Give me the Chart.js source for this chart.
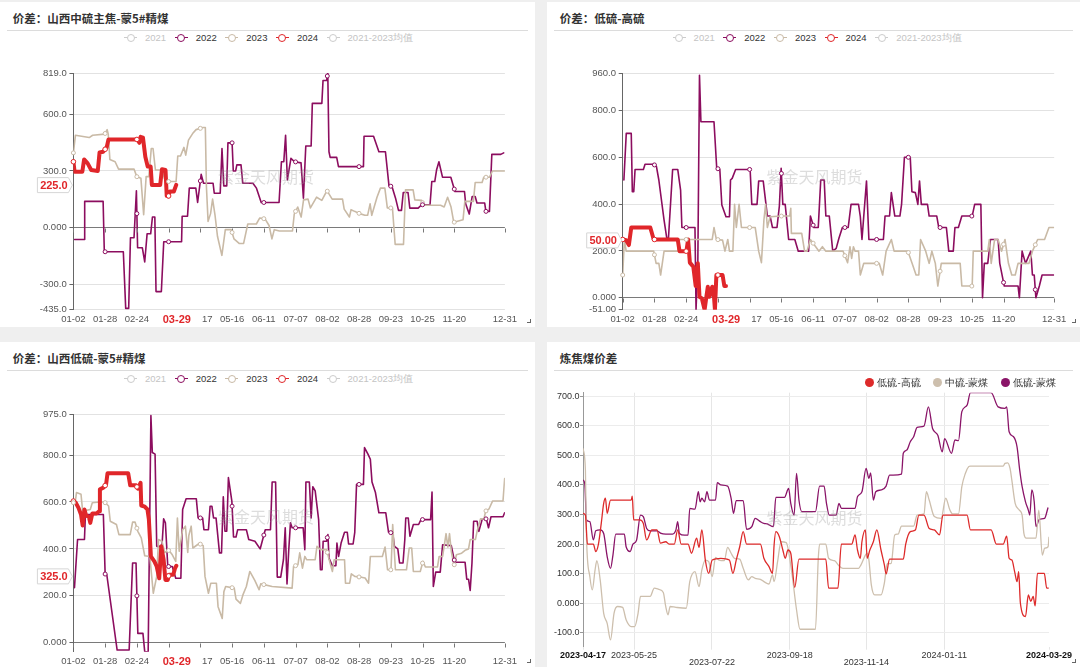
<!DOCTYPE html>
<html>
<head>
<meta charset="utf-8">
<script src="https://cdn.jsdelivr.net/npm/chart.js@4.4.1/dist/chart.umd.min.js"></script>
<style>
body{margin:0;background:#efefef;width:1080px;height:667px;overflow:hidden;position:relative;font-family:"Liberation Sans",Arial,sans-serif;}
.panel{position:absolute;background:#fff;}
.title{position:absolute;font-family:"Noto Sans CJK SC",sans-serif;font-weight:700;font-size:11.5px;line-height:14px;color:#333;white-space:nowrap;}
.sep{position:absolute;height:1px;background:#dcdcdc;}
.legend{position:absolute;font-size:9.5px;line-height:10px;white-space:nowrap;display:flex;align-items:center;z-index:3;}
.legend .item{display:flex;align-items:center;margin-right:8.5px;}
.icon{position:relative;display:inline-block;width:13px;height:8px;margin-right:8px;}
.icon:before{content:'';position:absolute;left:0;right:0;top:3.5px;height:1px;background:currentColor;}
.icon:after{content:'';position:absolute;left:2.5px;top:0;width:6px;height:6px;border:1px solid currentColor;border-radius:50%;background:#fff;}
.dot{display:inline-block;width:9px;height:9px;border-radius:50%;margin-right:3px;}
.corner{position:absolute;width:3px;height:3px;border-right:1px solid #666;border-bottom:1px solid #666;}
canvas{position:absolute;z-index:2;}
</style>
</head>
<body>
<script>
// ---- data: year panels (x = day of year from 01-02, y = spread) ----
const yearNames = ['2021', '2022', '2023', '2024', '2021-2023均值'];
const yearColors = ['#cccccc', '#8c0d5f', '#c9baa6', '#e0262a', '#cccccc'];
const yearShown = [false, true, true, true, false];
const xTickDays = [1, 27.7, 54.4, 81.1, 107.8, 134.5, 161.2, 187.9, 214.6, 241.3, 268, 294.7, 321.4, 364];
const xTickLabels = ['01-02', '01-28', '02-24', '', '04-17', '05-16', '06-11', '07-07', '08-02', '08-28', '09-23', '10-25', '11-20', '12-31'];
const markerDays = [1, 27.7, 54.4, 81.1, 107.8, 134.5, 161.2, 187.9, 214.6, 241.3, 268, 294.7, 321.4, 348.1];
const todayDay = 88;
const todayLabel = '03-29';

// 山西中硫主焦-蒙5#精煤
const mid22 = [[2,-63],[10,-63],[10.5,139],[26,139],[27,-128],[43,-128],[45,-428],[47.5,-428],[49,-54],[52,-54],[54,195],[55,-107],[59,-107],[61,-182],[63,-33],[66,-33],[67.5,56],[69.5,56],[70.5,-339],[75,-339],[77,-75],[92,-75],[92.5,60],[97,60],[98.5,209],[104,209],[105.5,133],[108.5,282],[110.5,235],[118.5,235],[119.5,182],[124.5,182],[126,419],[127.5,221],[130,221],[131,449],[134.5,449],[135.5,300],[137.5,300],[138.5,332],[142,332],[143.5,235],[152,235],[155,209],[159,133],[174,133],[176,349],[178,349],[179.5,489],[181,253],[184,367],[187,349],[192.5,343],[194.5,156],[196.5,432],[201,432],[202,658],[210,658],[211,779],[214,779],[215,819],[216,402],[217,372],[222.5,372],[224,323],[245,323],[245.5,484],[253.5,484],[258,402],[263.5,402],[266.5,221],[269,218],[272,156],[274.5,91],[277,91],[278.5,186],[282.5,186],[284,103],[291,103],[294,121],[301,121],[302.5,244],[305,244],[306.5,305],[308.5,349],[311.5,267],[318.5,267],[322,191],[330,191],[331,126],[334,72],[336.5,165],[339,165],[340.5,130],[347,130],[348,86],[351,86],[353,388],[360.5,388],[363,396]];
const mid23 = [[1,396],[2.7,489],[14.3,477],[17.2,489],[27.4,495],[29.4,519],[30.3,495],[31.7,361],[36.1,349],[39,310],[52,310],[54.3,270],[57.8,261],[60.1,68],[62.2,270],[64.5,270],[66.5,419],[68,419],[70,305],[75.2,305],[77.5,261],[80.4,244],[87.4,244],[88.8,379],[91.1,379],[94,425],[95.5,384],[97.8,463],[101.3,498],[104.2,519],[110,530],[112,530],[112.9,218],[114.3,33],[116.4,74],[118.1,151],[120.1,68],[122.2,-46],[125.9,-147],[128.8,-11],[133.8,-11],[136.1,-60],[140.4,-84],[144.2,-84],[147.7,19],[154.9,19],[157.8,51],[162.2,46],[165.6,11],[168,-60],[170,-11],[174.3,-18],[185.3,-18],[186.8,72],[189.7,109],[192.6,56],[194.6,147],[198.4,151],[200.4,104],[205.6,161],[210,144],[214.3,196],[218.7,151],[227.4,151],[228.8,98],[233.2,56],[234.6,95],[237.5,86],[241.9,74],[246.2,65],[248.5,65],[250.6,126],[252,65],[256.4,161],[259.3,209],[263,209],[265.1,104],[269.4,104],[271.7,-89],[278.7,-89],[280.4,200],[286.8,200],[288.2,147],[294,144],[295.5,118],[309.9,118],[312.9,109],[315.8,161],[318.7,109],[321,28],[328.8,42],[330.3,139],[337.5,139],[339,239],[344.8,239],[346.2,267],[351.1,267],[353.5,300],[363.5,300]];
const mid24 = [[1,349],[2,296],[8.5,296],[10,361],[13,340],[16,305],[21.5,300],[23,398],[26,402],[29,425],[30.5,467],[55,467],[56.5,449],[57.5,481],[59.5,477],[61.5,375],[63.5,323],[66,323],[67,226],[74,226],[75.5,309],[78.5,305],[79.5,168],[81,165],[82,191],[85.5,191],[87.5,226]];

// 低硫-高硫
const hs22 = [[2,503],[4,702],[8.2,702],[9.1,453],[10.3,453],[11.4,548],[18.4,548],[19.8,570],[27.1,570],[29.4,560],[31.4,503],[35.8,332],[38.1,254],[39.5,254],[43,548],[47.3,548],[49.7,460],[50.8,300],[61.8,300],[62.7,-51],[64.2,147],[65.6,950],[66.8,752],[77.8,752],[80.1,553],[82.7,548],[84.4,396],[87.9,346],[90.8,346],[91.7,503],[93.1,510],[96,548],[108.2,548],[109.6,399],[114,399],[115.4,499],[119.2,499],[122.7,349],[125,349],[127,300],[130.8,300],[132.8,392],[134.3,553],[135.7,399],[137.7,399],[140.6,249],[145.8,249],[148.7,199],[157.4,199],[158.9,349],[161.8,300],[165.5,300],[167.6,503],[170.5,503],[171.9,349],[174.8,349],[177.7,199],[180.6,211],[182.9,254],[185.8,300],[190.7,300],[193.1,399],[199.4,399],[200.9,346],[202.3,249],[203.8,349],[206.1,499],[208.1,249],[220.3,249],[221.7,349],[225.5,349],[227,449],[229.9,349],[234.2,349],[235.6,399],[238,600],[242.9,600],[244.3,453],[247.2,449],[249.3,399],[250.7,499],[252.2,399],[257.4,399],[258.8,349],[265.2,349],[266.9,300],[273.3,300],[275.3,199],[279.1,199],[280.5,300],[283.4,300],[286.3,349],[295,349],[297.1,399],[302.3,399],[303.7,0],[305.2,147],[308.1,147],[310.4,249],[316.8,249],[318.2,147],[322,50],[333.6,50],[334.7,0],[337,199],[339.9,147],[344.3,199],[345.7,97],[347.2,97],[348.6,0],[351.5,50],[353.8,97],[363.5,97]];
const hs23 = [[1,97],[2.4,249],[3.9,199],[27.1,199],[29.1,147],[31.4,147],[32.9,97],[35.8,199],[47.3,199],[48.8,249],[76.3,249],[77.8,300],[79.8,249],[85,246],[87,199],[89.4,249],[90.8,199],[93.7,199],[95.1,399],[96.6,300],[98.9,399],[100.9,300],[112.5,300],[115.4,199],[117.7,150],[119.8,332],[121.2,399],[122.7,300],[125,346],[134.3,349],[141.5,349],[142.4,382],[142.9,275],[151.6,275],[154,199],[156,199],[158.9,249],[166.1,199],[169,218],[171.9,199],[186.4,199],[190.2,150],[192.2,218],[193.6,168],[195.1,218],[196.5,199],[199.4,199],[200.9,97],[203.8,147],[216.8,147],[219.7,97],[222.6,199],[227,249],[229.3,199],[240.9,199],[244.3,150],[247.8,97],[250.1,97],[251.6,249],[255.9,199],[258.8,147],[261.1,199],[264,147],[266.1,50],[269,147],[284.9,147],[286.3,50],[295,50],[295.9,199],[308.1,199],[309.5,249],[311,147],[313.9,249],[316.8,249],[319.7,199],[322.6,249],[325.5,147],[328.3,97],[331.2,97],[333.6,147],[342.8,147],[345.7,199],[350.1,249],[355.9,249],[359.6,300],[363.5,300]];
const hs24 = [[1,249],[3.9,246],[6.2,225],[8.2,300],[24.2,300],[27.1,249],[47.3,249],[48.8,199],[54.6,199],[56,249],[57.5,150],[60.4,132],[62.4,50],[64.2,147],[65.6,4],[67.6,-3],[69.9,-51],[71.4,4],[72.6,47],[74,4],[76.3,47],[77.8,4],[78.6,-51],[79.8,97],[85,97],[86.5,50],[87.9,50]];

// 山西低硫-蒙5#精煤
const low22 = [[1.9,235],[4.5,440],[10.3,440],[11.1,547],[26.2,547],[27.7,293],[29.1,290],[37.8,-31],[47.9,-31],[50.8,340],[53.7,340],[55.2,40],[59.5,40],[61,-38],[63.9,-38],[66.2,968],[67.4,811],[69.7,804],[71.1,411],[75.5,411],[76.9,528],[78.4,511],[80.4,325],[84.2,325],[87.1,275],[91.4,275],[92.9,568],[95.8,614],[104.4,614],[105.9,532],[109.7,532],[110.8,482],[114.6,482],[116,582],[117.5,582],[118.9,532],[121,532],[123.9,383],[125.6,383],[127.1,622],[128.5,475],[130,475],[131.4,704],[134.3,604],[135.7,451],[137.8,451],[139.2,482],[146.5,482],[148.5,440],[153.7,433],[158.1,400],[162.4,482],[166.8,482],[168.2,685],[171.1,685],[172.5,280],[175.4,280],[177.7,354],[179.2,490],[180.7,251],[182.1,390],[183.6,511],[185,490],[194.3,490],[195.7,397],[196.6,685],[199.5,685],[201,532],[202.4,665],[204.4,647],[207.3,525],[208.8,311],[210.2,311],[211.1,433],[214,433],[215.1,461],[216,361],[218.9,328],[221.8,328],[222.7,425],[224.1,368],[226.2,425],[229.1,471],[231.4,471],[232.5,421],[236.3,421],[237.7,471],[239.2,675],[245,675],[245.9,832],[248.8,804],[250.8,782],[252.2,685],[255.1,640],[258,554],[263.8,554],[266.1,471],[269.6,468],[271.1,411],[273.9,400],[275.4,340],[278.3,340],[279.8,440],[280.6,532],[282.7,532],[284.1,454],[287,504],[291.4,504],[293.4,525],[301.5,525],[302.7,642],[303.8,240],[305.8,301],[309.6,301],[311.6,418],[318.9,414],[321.8,343],[330.5,343],[331.9,271],[333.4,271],[334.8,223],[336.3,340],[337.7,518],[340.6,518],[342.1,475],[345,528],[348.4,528],[350.2,490],[352.3,537],[362.4,537],[363.8,554]];
const low23 = [[1,597],[2.4,594],[3.6,640],[7.4,633],[8.8,561],[15.2,568],[16.9,597],[23.3,600],[27.1,600],[30.6,583],[32,518],[37.2,504],[39.3,461],[48.8,461],[50.8,514],[52.9,514],[55.2,475],[58.1,447],[61,371],[65.3,368],[68.2,211],[71.1,283],[72.6,440],[75.5,433],[77.8,385],[81.3,394],[84.2,375],[87.1,347],[88.5,532],[90,390],[92.9,482],[95.2,497],[97.2,385],[98.1,457],[100.1,497],[101.5,404],[106.8,423],[110.2,414],[111.7,283],[114.6,211],[116.6,254],[121.3,254],[122.7,154],[126.2,104],[127.6,218],[129.1,240],[136.3,233],[137.8,186],[141.5,168],[143.6,204],[146.5,240],[149.4,304],[153.7,265],[157.2,226],[158.6,251],[168.2,240],[185,233],[186.2,325],[189.9,333],[191.4,383],[193.7,318],[195.7,368],[197.2,354],[204.4,354],[205.9,411],[208.8,397],[214,397],[216,357],[218.9,304],[220.4,354],[229.1,354],[229.9,254],[233.4,254],[234.8,294],[237.7,283],[242.1,280],[246.4,276],[249.3,254],[250.8,368],[260.9,368],[263.2,408],[265.3,311],[268.2,311],[269.6,504],[271.9,311],[281.2,311],[283.5,404],[285.6,404],[287,304],[292.8,304],[295.1,347],[297.1,323],[307.3,323],[308.7,368],[311.6,368],[314.5,465],[316,408],[317.4,465],[318.9,390],[321.2,328],[323.2,375],[327.6,382],[330.5,394],[333.4,400],[334.8,440],[339.2,440],[340.6,475],[343.5,528],[346.4,528],[347.8,561],[350.7,571],[353.6,604],[362.4,604],[363.8,700]];
const low24 = [[1,604],[3,597],[5.3,575],[7.4,547],[8.8,500],[10.3,568],[11.7,542],[14,537],[15.2,511],[16.9,551],[20.4,551],[22.7,561],[23.3,654],[26.2,661],[28.5,675],[29.7,722],[47.1,722],[48.8,671],[53.7,671],[55.2,657],[57.5,682],[58.1,585],[61,580],[63.3,568],[64.5,525],[66.2,368],[69.1,347],[71.1,325],[73.2,275],[74.9,411],[76.9,354],[78.4,268],[80.4,268],[81.3,290],[85,290],[86.5,318],[87.6,328]];

// ---- data: 炼焦煤价差 (x = days since 2023-04-17) ----
const spreadNames = ['低硫-高硫', '中硫-蒙煤', '低硫-蒙煤'];
const spreadColors = ['#dd2a2a', '#cdbfad', '#8a1468'];
const spreadStart = Date.UTC(2023, 3, 17);
const spreadTickDays = [0, 38, 96, 154, 211, 269, 347];
const lowHigh = [[0,304],[1.8,298],[3.3,200],[7.7,200],[9.5,175],[11.5,200],[13.6,270],[15.4,338],[16.7,355],[18,304],[20.5,349],[35.9,349],[36.7,362],[37.7,282],[42.3,282],[44.9,270],[47.4,214],[51.3,248],[55.1,248],[57.7,203],[61.6,208],[64.1,200],[68,200],[70.5,248],[73.1,200],[78.2,200],[80.8,169],[84.6,220],[86.4,189],[88.5,248],[91.1,146],[93.6,101],[96.2,146],[102.6,152],[109,146],[111.6,101],[114.1,146],[116.7,191],[119.3,242],[121.8,200],[132.1,200],[134.7,152],[138.5,124],[141.1,101],[142.3,197],[143.6,242],[146.2,225],[148.8,180],[150.6,152],[152.6,180],[154.7,169],[157.7,54],[160.8,149],[180.8,149],[182.9,51],[189.8,51],[192.4,200],[200.1,200],[202.6,231],[204.4,180],[206.5,152],[207.7,208],[210.3,248],[211.6,152],[213.6,180],[216.2,208],[218.8,248],[221.9,180],[224.4,130],[225.7,99],[228.3,149],[238.5,149],[240.3,200],[243.7,242],[247.5,248],[250.1,298],[253.9,298],[257.8,253],[261.6,248],[265.5,231],[268,298],[286,298],[288.5,248],[303.9,248],[307.8,200],[312.9,200],[315.5,227],[317.3,152],[319.4,146],[321.4,107],[323.2,73],[324.4,107],[325.7,0],[329.5,-45],[331.6,28],[333.4,6],[335.2,23],[336.7,-9],[338.4,101],[343.5,101],[345.3,51],[346.8,51]];
const midMeng = [[0,524],[1.8,450],[2.6,225],[5.1,90],[6.9,45],[9,113],[10.3,144],[12.8,79],[15.4,-34],[18,-68],[20.5,-124],[23.1,-34],[25.6,-11],[29.5,-14],[32.1,-56],[35.9,-79],[38.5,-79],[41,-34],[42.8,23],[50,23],[53.1,51],[56.4,47],[59.8,36],[61.6,-11],[63.3,-39],[64.9,-11],[69.2,-14],[76.9,-17],[79.5,73],[83.4,107],[86.4,56],[88.5,113],[91.1,146],[93.6,141],[96.2,90],[98.7,155],[101.3,146],[105.2,144],[107.7,189],[110.3,169],[112.8,152],[116.7,149],[119.3,118],[123.1,79],[125.7,90],[128.2,84],[132.1,81],[134.7,73],[138.5,65],[141.1,96],[142.3,73],[144.9,141],[147.5,208],[151.3,205],[155.2,113],[159,-22],[161.6,-88],[173.1,-88],[175.2,152],[176.2,200],[180.8,200],[182.9,152],[187.2,144],[191.1,124],[193.6,118],[205.2,118],[207,130],[211.6,169],[212.9,146],[214.7,62],[217.2,28],[221.9,28],[224.4,68],[226.5,133],[229.5,135],[232.1,231],[234.7,234],[237.2,261],[246.2,261],[248.8,298],[253.9,302],[255.7,377],[257.8,349],[261.6,293],[266.7,287],[270.1,355],[273.2,315],[275.2,302],[279.6,302],[282.1,394],[284.7,439],[287.2,462],[288.5,464],[312.9,464],[314.2,473],[316.2,475],[318,456],[319.3,417],[321.8,338],[324.9,315],[327,298],[328.3,236],[330.1,220],[337.3,220],[339.4,315],[342,163],[343.8,186],[346.3,191],[347,225]];
const lowMeng = [[0,417],[1.3,405],[2.6,282],[5.1,276],[7.7,214],[9.5,245],[12.8,248],[15.4,236],[18,158],[20.5,118],[22.3,163],[24.4,234],[30.8,234],[32.1,191],[35.1,175],[37.2,200],[39.8,212],[42.8,298],[44.9,293],[47.4,253],[50,245],[55.1,245],[58.2,236],[61.6,234],[66.7,234],[69.2,248],[70.5,276],[71.8,236],[75.7,230],[78.2,230],[79.5,321],[83.4,318],[85.9,377],[87.2,343],[88.5,355],[90.5,343],[92.3,377],[94.1,349],[98.7,349],[100,408],[102.6,400],[107.7,396],[110.3,355],[112.1,304],[114.1,347],[119.3,347],[121.8,250],[125.7,259],[128.2,287],[132.1,276],[134.7,270],[137.2,268],[141.8,259],[143.6,358],[150,358],[153.1,388],[154.7,338],[157.2,298],[159,439],[160.8,349],[162.9,310],[173.1,310],[176.2,396],[179.5,396],[181.3,338],[183.4,298],[188.5,298],[190.6,338],[192.4,321],[202.6,321],[204.4,360],[207.7,377],[210.8,456],[212.9,422],[214.2,441],[216.2,349],[218,377],[221.9,383],[225.7,396],[228.3,433],[237.2,437],[238.5,507],[241.1,518],[243.7,546],[246.2,563],[248.8,595],[253.9,599],[257.2,664],[260.3,591],[264.2,568],[267.5,512],[269.3,557],[274.4,507],[277,552],[279.6,550],[282.1,648],[286,670],[288.5,712],[303.9,712],[309.1,664],[314.2,659],[315.5,664],[317.3,580],[320.6,563],[323.2,529],[325.2,450],[327,394],[329.5,343],[331.6,315],[332.7,298],[334.2,383],[336,343],[337.3,259],[339.8,284],[343.7,287],[346.3,324]];

const watermark = '紫金天风期货';

// ---- layout ----
const yearPanels = [
  { title: '价差：山西中硫主焦-蒙5#精煤', box: [0, 2, 535, 325], canvas: [0, 45, 535, 290], plot: [73.4, 73, 504.9, 309.7],
    yMin: -435, yMax: 819, yTicks: [-435, -300, 0, 300, 600, 819], series: [mid22, mid23, mid24],
    last: '225.0', lastAt: 225, legend: [124, 32.5], mark: [266, 176.7], labelPad: 4 },
  { title: '价差：低硫-高硫', box: [547, 2, 533, 325], canvas: [547, 45, 533, 290], plot: [622.7, 73, 1054.2, 309.7],
    yMin: -51, yMax: 960, yTicks: [-51, 0, 200, 400, 600, 800, 960], series: [hs22, hs23, hs24],
    last: '50.00', lastAt: 245, legend: [672.6, 32.5], mark: [814.6, 177], labelPad: 4 },
  { title: '价差：山西低硫-蒙5#精煤', box: [0, 342, 535, 325], canvas: [0, 385, 535, 282], plot: [73.4, 414, 504.9, 651.7],
    yMin: -38, yMax: 975, yTicks: [0, 200, 400, 600, 800, 975], series: [low22, low23, low24],
    last: '325.0', lastAt: 283, legend: [124, 373.5], mark: [266, 517], labelPad: 3.7 }
];

function addDiv(cls, left, top, w, h, text) {
  const d = document.createElement('div');
  d.className = cls;
  d.style.left = left + 'px';
  d.style.top = top + 'px';
  if (w != null) d.style.width = w + 'px';
  if (h != null) d.style.height = h + 'px';
  if (text) d.textContent = text;
  document.body.appendChild(d);
  return d;
}

function addPanelFrame(box, title) {
  addDiv('panel', box[0], box[1], box[2], box[3]);
  addDiv('title', box[0] + 12.7, box[1] + 8.5, null, null, title);
  addDiv('sep', box[0] + 6.5, box[1] + 28, box[2] - 14, 1);
  addDiv('corner', box[0] + box[2] - 8, box[1] + box[3] - 8, null, null);
}

function yearLegend(left, top) {
  const box = addDiv('legend', left, top, null, null);
  yearNames.forEach((n, i) => {
    const c = yearShown[i] ? yearColors[i] : '#cccccc';
    const it = document.createElement('span');
    it.className = 'item';
    it.innerHTML = `<span class="icon" style="color:${c}"></span><span style="color:${yearShown[i] ? '#333' : '#c4c4c4'}">${n}</span>`;
    box.appendChild(it);
  });
}

function toPts(arr) {
  return arr.map(p => ({ x: p[0], y: p[1] }));
}

const decor = {
  id: 'decor',
  afterDatasetsDraw(chart, args, o) {
    const ctx = chart.ctx, xs = chart.scales.x, ys = chart.scales.y;
    ctx.save();
    // watermark
    ctx.font = '16px "Noto Sans CJK SC"';
    ctx.fillStyle = 'rgba(150,150,150,0.32)';
    ctx.textAlign = 'center';
    ctx.textBaseline = 'middle';
    ctx.fillText(watermark, o.markX, o.markY);
    // ticks on the zero line
    if (o.zeroTicks) {
      const y0 = Math.round(ys.getPixelForValue(0)) + 0.5;
      ctx.strokeStyle = '#777';
      ctx.lineWidth = 1;
      xs.ticks.forEach(t => {
        const px = Math.round(xs.getPixelForValue(t.value)) + 0.5;
        ctx.beginPath(); ctx.moveTo(px, y0); ctx.lineTo(px, y0 + 4); ctx.stroke();
      });
    }
    // small symbols at the label interval
    if (o.markers) {
      chart.data.datasets.forEach((ds, i) => {
        const pts = chart.getDatasetMeta(i).data;
        o.markers.forEach(m => {
          const px = xs.getPixelForValue(m);
          for (let j = 0; j < pts.length - 1; j++) {
            const a = pts[j], b = pts[j + 1];
            if (a.x <= px && b.x >= px) {
              const y = b.x === a.x ? a.y : a.y + (b.y - a.y) * (px - a.x) / (b.x - a.x);
              ctx.beginPath();
              ctx.arc(px, y, ds.markerR, 0, Math.PI * 2);
              ctx.fillStyle = '#fff';
              ctx.fill();
              ctx.strokeStyle = ds.borderColor;
              ctx.lineWidth = 1;
              ctx.stroke();
              break;
            }
          }
        });
      });
    }
    ctx.restore();
  },
  afterDraw(chart, args, o) {
    if (!o.last) return;
    const ctx = chart.ctx, xs = chart.scales.x, ys = chart.scales.y, a = chart.chartArea;
    ctx.save();
    // current value tag on the y axis
    const y = ys.getPixelForValue(o.lastAt);
    const l = a.left - 36, r = a.left - 5;
    ctx.beginPath();
    ctx.moveTo(l, y - 7.5); ctx.lineTo(r, y - 7.5); ctx.lineTo(a.left - 1, y);
    ctx.lineTo(r, y + 7.5); ctx.lineTo(l, y + 7.5); ctx.closePath();
    ctx.fillStyle = '#fff'; ctx.fill();
    ctx.strokeStyle = '#d6d6d6'; ctx.lineWidth = 1; ctx.stroke();
    ctx.font = 'bold 11px "Liberation Sans", Arial';
    ctx.fillStyle = '#e0262a';
    ctx.textAlign = 'center';
    ctx.textBaseline = 'middle';
    ctx.fillText(o.last, a.left - 19.5, y + 0.5);
    // current date tag on the x axis
    const px = xs.getPixelForValue(todayDay);
    const ty = a.bottom + 9.6;
    ctx.fillStyle = '#fff';
    ctx.fillRect(px - 25, ty - 7, 50, 14);
    ctx.fillStyle = '#e0262a';
    ctx.fillText(todayLabel, px, ty + 0.5);
    ctx.restore();
  }
};

function makeCanvas(c) {
  const cv = document.createElement('canvas');
  cv.width = c[2];
  cv.height = c[3];
  cv.style.left = c[0] + 'px';
  cv.style.top = c[1] + 'px';
  document.body.appendChild(cv);
  return cv;
}

function yearChart(p) {
  addPanelFrame(p.box, p.title);
  yearLegend(p.legend[0], p.legend[1]);
  const [cx, cy, cw, ch] = p.canvas;
  const [L, T, R, B] = p.plot;
  const cv = makeCanvas(p.canvas);
  const order = [2, 1, 0]; // 2024 drawn on top
  const datasets = order.map(k => ({
    label: yearNames[k + 1],
    data: toPts(p.series[k]),
    borderColor: yearColors[k + 1],
    borderWidth: k === 2 ? 4 : 1.6,
    markerR: k === 2 ? 2.3 : 2,
    borderJoinStyle: 'round',
    borderCapStyle: 'round',
    pointRadius: 0,
    tension: 0
  }));
  new Chart(cv, {
    type: 'line',
    data: { datasets },
    plugins: [decor],
    options: {
      responsive: false,
      animation: false,
      devicePixelRatio: 1,
      events: [],
      layout: { padding: { left: 0, top: T - cy, right: cx + cw - R, bottom: 0 } },
      plugins: {
        legend: { display: false },
        tooltip: { enabled: false },
        decor: { markX: p.mark[0] - cx, markY: p.mark[1] - cy, zeroTicks: true, markers: markerDays, last: p.last, lastAt: p.lastAt }
      },
      scales: {
        x: {
          type: 'linear', min: 1, max: 364,
          afterBuildTicks: s => { s.ticks = xTickDays.map(v => ({ value: v })); },
          afterFit: s => { s.height = cy + ch - B; },
          grid: { display: false, drawTicks: false },
          border: { display: false },
          ticks: { autoSkip: false, maxRotation: 0, padding: p.labelPad, color: '#555',
                   font: { size: 9.5, family: '"Liberation Sans", Arial' },
                   callback: (v, i) => xTickLabels[i] }
        },
        y: {
          min: p.yMin, max: p.yMax,
          afterBuildTicks: s => { s.ticks = p.yTicks.map(v => ({ value: v })); },
          afterFit: s => { s.width = L - cx; },
          grid: { color: c => (c.tick && c.tick.value === 0) ? '#7a7a7a' : '#e2e2e2', tickLength: 4, tickColor: '#666' },
          border: { color: '#666' },
          ticks: { padding: 2.7, color: '#555', font: { size: 9.5, family: '"Liberation Sans", Arial' },
                   callback: v => Number(v).toPrecision(4) }
        }
      }
    }
  });
}

yearPanels.forEach(yearChart);

// ---- 炼焦煤价差 ----
(function () {
  const box = [547, 342, 533, 325];
  addPanelFrame(box, '炼焦煤价差');
  const lg = addDiv('legend', 865.4, 377.5, null, null);
  spreadNames.forEach((n, i) => {
    const it = document.createElement('span');
    it.className = 'item';
    it.style.marginRight = '12.5px';
    it.innerHTML = `<span class="dot" style="background:${spreadColors[i]}"></span><span style="color:#333">${n}</span>`;
    lg.appendChild(it);
  });
  const c = [547, 380, 533, 287];
  const [L, T, R, B] = [583, 392.7, 1049, 646.7];
  const cv = makeCanvas(c);
  const series = [lowHigh, midMeng, lowMeng];
  const fmt = v => new Date(spreadStart + v * 86400000).toISOString().slice(0, 10);
  new Chart(cv, {
    type: 'line',
    data: {
      datasets: series.map((s, i) => ({
        label: spreadNames[i],
        data: toPts(s),
        borderColor: spreadColors[i],
        borderWidth: 1.3,
        pointRadius: 0,
        cubicInterpolationMode: 'monotone'
      }))
    },
    plugins: [decor],
    options: {
      responsive: false,
      animation: false,
      devicePixelRatio: 1,
      events: [],
      layout: { padding: { left: 0, top: T - c[1], right: c[0] + c[2] - R, bottom: 0 } },
      plugins: {
        legend: { display: false },
        tooltip: { enabled: false },
        decor: { markX: 814.6 - c[0], markY: 517.7 - c[1] }
      },
      scales: {
        x: {
          type: 'linear', min: 0, max: 347,
          afterBuildTicks: s => { s.ticks = spreadTickDays.map(v => ({ value: v })); },
          afterFit: s => { s.height = c[1] + c[3] - B; },
          grid: { color: g => g.index === spreadTickDays.length - 1 ? 'rgba(0,0,0,0)' : '#e6e6e6', tickLength: 3, tickColor: '#e6e6e6' },
          border: { display: false },
          ticks: {
            autoSkip: false, maxRotation: 0, padding: 2.4,
            color: t => (t.index === 0 || t.index === spreadTickDays.length - 1) ? '#111' : '#333',
            font: t => ({ size: 9, family: '"Liberation Sans", Arial', lineHeight: 0.8,
                          weight: (t.index === 0 || t.index === spreadTickDays.length - 1) ? 'bold' : 'normal' }),
            callback: (v, i) => (i === 2 || i === 4) ? ['', fmt(v)] : fmt(v)
          }
        },
        y: {
          min: -147, max: 712,
          afterBuildTicks: s => { s.ticks = [-100, 0, 100, 200, 300, 400, 500, 600, 700].map(v => ({ value: v })); },
          afterFit: s => { s.width = L - c[0]; },
          grid: { color: '#ececec', tickLength: 3, tickColor: '#999' },
          border: { color: '#999' },
          ticks: { padding: 0.5, color: '#333', font: { size: 9, family: '"Liberation Sans", Arial' },
                   callback: v => Number(v).toPrecision(4) }
        }
      }
    }
  });
})();
</script>
</body>
</html>
